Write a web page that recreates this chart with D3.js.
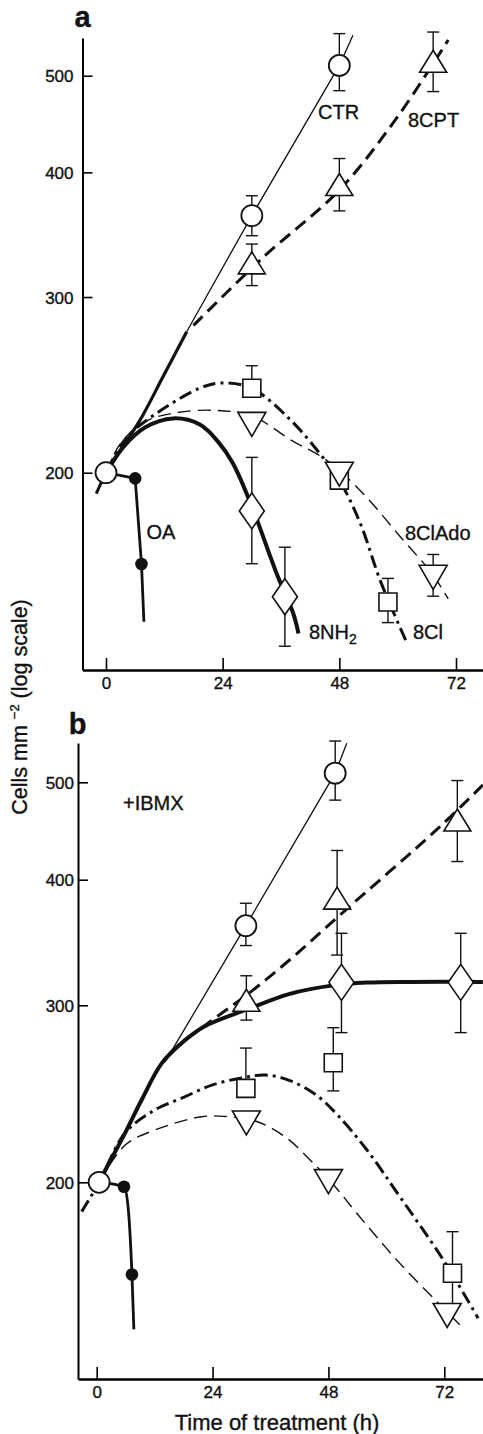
<!DOCTYPE html>
<html lang="en">
<head>
<meta charset="UTF-8">
<title>cell counts log scale</title>
<script src="https://d3js.org/d3.v7.min.js"></script>
<style>
  body { margin: 0; background: #fff; }
  text { font-family: "Liberation Sans", Arial, sans-serif; fill: #111; stroke: #111; stroke-width: 0.35px; }
</style>
</head>
<body>
<script>

// tick values shared by both panels
const ticksX = [0, 24, 48, 72]
const ticksY = [200, 300, 400, 500]

// ---------- panel a : measured points (h, cells/mm2, error low/high) ----------
const ctrA   = [{h:0, v:200}, {h:30, v:362, lo:345.6, hi:379}, {h:48, v:512, lo:483, hi:551}]
const cptA   = [{h:30, v:324.6, lo:308, hi:339}, {h:48, v:389, lo:366, hi:413}, {h:67.3, v:517, lo:482, hi:553}]
const nh2A   = [{h:30, v:183.1, lo:162.1, hi:207.2}, {h:36.8, v:150.2, lo:134, hi:168.4}]
const clA    = [{h:30, v:243, lo:243, hi:256}, {h:48, v:196.6}, {h:58, v:148.4, lo:141.5, hi:156.7}]
const cladoA = [{h:30, v:223.6}, {h:48, v:199.3}, {h:67.3, v:157.1, lo:150.4, hi:165.6}]
const oaA    = [{h:6, v:197.4}, {h:7.3, v:162}]

// panel a : drawn curves [h, cells/mm2]
const trunkA      = [[0,200],[1.85,206.7],[7,225.8],[11.8,250],[16.6,276.9]]
const ctrCurveA   = [[16.6,276.9],[30,362],[48,512],[50.8,549]]
const cptCurveA   = [[18,281],[32.4,329],[48,384],[60,455],[70.4,543]]
const nh2CurveA   = [[0,200],[3.6,212.3],[8,222],[13.8,226.7],[19.3,223.5],[23,215],[26.1,204.4],[30,185],[35.1,158.5],[38.5,144.6],[39.6,138]]
const clCurveA    = [[-2,190.6],[0,200],[4.3,217],[10.4,229.4],[19.3,243.1],[23.5,246],[30,243],[37.9,226],[44,209],[48,196.6],[52.3,178],[56.4,156],[61.9,135]]
const cladoCurveA = [[0,200],[3,214],[8,225],[14,229.5],[22,231],[30,228],[38.5,215],[44,208],[48,201],[53.6,189],[60.5,172.6],[67,158.6],[70.4,149.5]]
const oaCurveA    = [[0,200],[6,197.4],[7.3,162],[7.8,141.8]]

// ---------- panel b (+IBMX) : measured points ----------
const ctrB   = [{h:0.5, v:200}, {h:30.9, v:360, lo:344, hi:379}, {h:49.4, v:510.6, lo:480, hi:549.6}]
const cptB   = [{h:31, v:303.5, lo:290, hi:321}, {h:49.8, v:383.5, lo:336.6, hi:427.7}, {h:74.7, v:458.6, lo:417, hi:502}]
const nh2B   = [{h:50.7, v:316.2, lo:281.8, hi:353.8}, {h:75.4, v:316.2, lo:281.8, hi:353.8}]
const clB    = [{h:30.9, v:248, lo:248, hi:272}, {h:49, v:263, lo:246.6, hi:285}, {h:73.7, v:162.4, lo:150.4, hi:178.6}]
const cladoB = [{h:31, v:229.1}, {h:48, v:200.3}, {h:72.6, v:147.4}]
const oaB    = [{h:5.65, v:198}, {h:7.3, v:161.9}]

// panel b : drawn curves
const ctrCurveB   = [[14.2,263.7],[30.9,360],[49.4,510.6],[51.8,546.8]]
const cptCurveB   = [[18.3,277],[24.9,292.3],[31,307],[40,333],[50,367.5],[71.1,451.7],[80,497]]
const nh2CurveB   = [[0.5,200],[2.1,207],[5.9,224],[9.3,241.5],[13.5,262.8],[18.3,277],[22.4,286],[31,297],[40,308],[49,314],[56,316],[65,316.5],[80,316.5]]
const clCurveB    = [[-3.1,187],[0.5,200],[5.9,224],[12,236],[18,243],[24,250],[30,254],[35,255.7],[40,252.5],[45.6,244],[50,233],[55.9,215.6],[62.8,193.5],[71.8,167.4],[79,146.5]]
const cladoCurveB = [[0.5,200],[5.9,217.8],[12.1,225.5],[21.7,232.4],[27,232.5],[33,230],[39,222],[44,211],[49,199],[54,186],[62.8,166.1],[72.6,148.6],[75.2,144.3]]
const oaCurveB    = [[0.5,200],[5.65,198],[6.5,189],[7.3,161.9],[7.7,142.8]]

var svg = d3.select("body")
    .append("svg")
    .attr("width", 483)
    .attr("height", 1434)

// line styles for each treatment
const styles = {
    trunk: {w:3.2, dash:null},
    ctr:   {w:1.3, dash:null},
    cpt:   {w:3,   dash:"13,7"},
    nh2:   {w:4,   dash:null},
    cl:    {w:3,   dash:"13,5,3,5"},
    clado: {w:1.4, dash:"13,7"},
    oa:    {w:2.8, dash:null}
}

function panel(p){
    // scales are fixed on two tick positions, then stretched to the axis ends
    var x = d3.scaleLinear().domain([0,72]).range([p.x0, p.x72])
    var y = d3.scaleLog().domain([200,500]).range([p.y200, p.y500])
    x.domain([x.invert(p.left), x.invert(p.right)]).range([p.left, p.right])
    y.domain([y.invert(p.bottom), y.invert(p.top)]).range([p.bottom, p.top])

    var g = svg.append("g")

    //axes
    var ya = g.append("g")
        .attr("transform", "translate(" + p.left + ",0)")
        .call(d3.axisLeft(y).tickValues(ticksY).tickFormat(d3.format("d"))
            .tickSize(-10).tickSizeOuter(0).tickPadding(p.padY))
    var xa = g.append("g")
        .attr("transform", "translate(0," + p.bottom + ")")
        .call(d3.axisBottom(x).tickValues(ticksX).tickFormat(d3.format("d"))
            .tickSize(-12).tickSizeOuter(0).tickPadding(7))
    ya.select(".domain").attr("stroke-width", 2)
    xa.select(".domain").attr("stroke-width", 2.6)
    g.selectAll(".tick line").attr("stroke-width", 1.6)
    g.selectAll(".tick text").style("font-size", "17px").attr("fill", "#111")
    ya.selectAll(".tick text").attr("dy", "0.36em")

    var line = d3.line().x(d => x(d[0])).y(d => y(d[1]))

    function curve(data, st, kind){
        g.append("path")
            .datum(data)
            .attr("d", line.curve(kind || d3.curveCatmullRom.alpha(0.5)))
            .attr("fill", "none")
            .attr("stroke", "#111")
            .attr("stroke-width", st.w)
            .attr("stroke-dasharray", st.dash)
            .attr("stroke-linecap", "butt")
    }
    p.curves.forEach(c => curve(c[0], c[1], c[2]))

    //error bars
    function errors(pts){
        pts.filter(d => d.lo !== undefined).forEach(d => {
            var cx = x(d.h)
            g.append("line").attr("x1", cx).attr("x2", cx)
                .attr("y1", y(d.lo)).attr("y2", y(d.hi))
                .attr("stroke", "#111").attr("stroke-width", 1.4)
            ;[d.lo, d.hi].forEach(v => {
                g.append("line").attr("x1", cx - 6).attr("x2", cx + 6)
                    .attr("y1", y(v)).attr("y2", y(v))
                    .attr("stroke", "#111").attr("stroke-width", 1.4)
            })
        })
    }
    p.markers.forEach(m => errors(m[0]))

    //symbols
    function symbolPath(type, cx, cy){
        if (type == "up") return "M" + cx + "," + (cy - 11) + "L" + (cx + 13.5) + "," + (cy + 11) + "L" + (cx - 13.5) + "," + (cy + 11) + "Z"
        if (type == "down") return "M" + (cx - 14) + "," + (cy - 12) + "L" + (cx + 14) + "," + (cy - 12) + "L" + cx + "," + (cy + 12) + "Z"
        if (type == "diamond") return "M" + cx + "," + (cy - 18) + "L" + (cx + 12.5) + "," + cy + "L" + cx + "," + (cy + 18) + "L" + (cx - 12.5) + "," + cy + "Z"
        return "M" + (cx - 9) + "," + (cy - 9) + "h18v18h-18Z"
    }
    p.markers.forEach(m => {
        m[0].forEach(d => {
            var cx = x(d.h), cy = y(d.v)
            if (m[1] == "circle") {
                g.append("circle").attr("cx", cx).attr("cy", cy).attr("r", 10.5)
                    .attr("fill", "#fff").attr("stroke", "#111").attr("stroke-width", 1.8)
            } else if (m[1] == "dot") {
                g.append("circle").attr("cx", cx).attr("cy", cy).attr("r", 6.3)
                    .attr("fill", "#111")
            } else {
                g.append("path").attr("d", symbolPath(m[1], cx, cy))
                    .attr("fill", "#fff").attr("stroke", "#111").attr("stroke-width", 1.6)
                    .attr("stroke-linejoin", "miter")
            }
        })
    })

    //panel letter
    g.append("text").attr("x", p.letterX).attr("y", p.letterY)
        .attr("text-anchor", "middle")
        .style("font-size", "29px").style("font-weight", "bold")
        .text(p.letter)

    p.labels.forEach(l => {
        var t = g.append("text").attr("x", l[1]).attr("y", l[2]).style("font-size", "20px")
        t.append("tspan").text(l[0])
        if (l[3]) t.append("tspan").attr("dy", 5).style("font-size", "14px").text(l[3])
    })
}

panel({
    letter: "a", letterX: 82.5, letterY: 27,
    left: 82.5, right: 483, top: 38, bottom: 670,
    x0: 106, x72: 456, y200: 472.7, y500: 75.7, padY: 9,
    curves: [
        [trunkA, styles.trunk],
        [ctrCurveA, styles.ctr, d3.curveLinear],
        [cptCurveA, styles.cpt],
        [cladoCurveA, styles.clado],
        [clCurveA, styles.cl],
        [nh2CurveA, styles.nh2],
        [oaCurveA, styles.oa, d3.curveLinear]
    ],
    markers: [
        [ctrA, "circle"], [cptA, "up"], [clA, "square"], [cladoA, "down"],
        [nh2A, "diamond"], [oaA, "dot"]
    ],
    labels: [
        ["CTR", 318, 118.5], ["8CPT", 408, 127], ["OA", 146.5, 538.5],
        ["8NH", 309, 638.5, "2"], ["8Cl", 413, 638.5], ["8ClAdo", 405, 539.5]
    ]
})

panel({
    letter: "b", letterX: 77.5, letterY: 734,
    left: 78, right: 483, top: 743, bottom: 1379,
    x0: 96.7, x72: 444.3, y200: 1182.3, y500: 782.3, padY: 4,
    curves: [
        [ctrCurveB, styles.ctr, d3.curveLinear],
        [cptCurveB, styles.cpt],
        [cladoCurveB, styles.clado],
        [clCurveB, styles.cl],
        [nh2CurveB, styles.nh2],
        [oaCurveB, styles.oa, d3.curveMonotoneX]
    ],
    markers: [
        [ctrB, "circle"], [cptB, "up"], [clB, "square"], [cladoB, "down"],
        [nh2B, "diamond"], [oaB, "dot"]
    ],
    labels: [
        ["+IBMX", 123, 810]
    ]
})

// shared axis titles
svg.append("text")
    .attr("x", 277).attr("y", 1430)
    .attr("text-anchor", "middle")
    .style("font-size", "22px")
    .text("Time of treatment (h)")

var ylab = svg.append("text")
    .attr("transform", "translate(26.5,707) rotate(-90)")
    .attr("text-anchor", "middle")
    .style("font-size", "21.5px")
ylab.append("tspan").text("Cells mm ")
ylab.append("tspan").attr("dy", -8).style("font-size", "13px").text("\u22122")
ylab.append("tspan").attr("dy", 8).text(" (log scale)")

</script>
</body>
</html>
